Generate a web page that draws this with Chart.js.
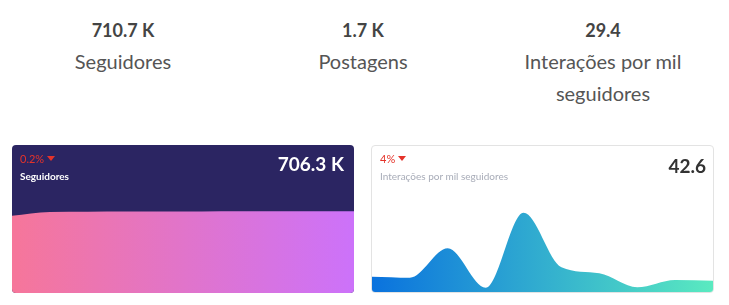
<!DOCTYPE html>
<html>
<head>
<meta charset="utf-8">
<script src="https://cdn.jsdelivr.net/npm/chart.js@4"></script>
<style>
  body { margin: 0; background: #fff; font-family: Lato, "Open Sans", sans-serif; width: 729px; height: 305px; position: relative; overflow: hidden; }
  .stat { position: absolute; top: 0; width: 240px; text-align: center; }
  .stat .num { position: absolute; top: 21px; left: 0; width: 100%; font-size: 18px; line-height: 18px; font-weight: 700; color: #444; }
  .stat .lbl { position: absolute; top: 45px; left: 0; width: 100%; font-size: 20px; line-height: 32px; color: #555; }
  .card { position: absolute; top: 145px; height: 148px; border-radius: 4px; overflow: hidden; box-sizing: border-box; }
  .card canvas { position: absolute; left: 0; bottom: 0; }
  .card .pct { position: absolute; left: 8px; top: 7px; font-size: 11px; line-height: 14px; color: #e5332a; }
  .card .pct i { display: inline-block; width: 0; height: 0; border-left: 4px solid transparent; border-right: 4px solid transparent; border-top: 5px solid #e5332a; margin-left: 3px; vertical-align: 2px; }
  .card .name { position: absolute; left: 8px; top: 25px; font-size: 10px; line-height: 12px; }
  .card .val { position: absolute; top: 8px; font-size: 19px; line-height: 22px; font-weight: 700; }
  #c1 { left: 12px; width: 342px; background: #2b2562; }
  #c1 .name { color: #fff; font-weight: 700; }
  #c1 .val { right: 10px; color: #fff; }
  #c2 { left: 371px; width: 343px; background: #fff; border: 1px solid #e3e3e3; }
  #c2 .pct { left: 8px; top: 6px; }
  #c2 .name { left: 8px; top: 24px; color: #a8acb8; }
  #c2 .val { right: 7px; top: 9px; color: #333; }
</style>
</head>
<body>

<div class="stat" style="left:3px"><div class="num">710.7 K</div><div class="lbl">Seguidores</div></div>
<div class="stat" style="left:243px"><div class="num">1.7 K</div><div class="lbl">Postagens</div></div>
<div class="stat" style="left:483px"><div class="num">29.4</div><div class="lbl">Interações por mil<br>seguidores</div></div>

<div class="card" id="c1">
  <canvas id="chartFollowers" width="342" height="148"></canvas>
  <div class="pct">0.2%<i></i></div>
  <div class="name">Seguidores</div>
  <div class="val">706.3 K</div>
</div>

<div class="card" id="c2">
  <canvas id="chartInteractions" width="341" height="146"></canvas>
  <div class="pct">4%<i></i></div>
  <div class="name">Interações por mil seguidores</div>
  <div class="val">42.6</div>
</div>

<script>
const periods = ["1", "2", "3", "4", "5", "6", "7", "8", "9", "10"];

// seguidores (milhares)
const followers = [668, 700, 703, 704.5, 705.3, 705.8, 706, 706.1, 706.2, 706.3];
const followersMax = 1280;

// interações por mil seguidores
const interactions = [15.3, 14.3, 43.7, 4.3, 79.3, 24.7, 18.7, 4.7, 12, 11.3];
const interactionsMax = 146;

function sideGradient(from, to) {
  return (context) => {
    const { ctx, chartArea } = context.chart;
    if (!chartArea) return from;
    const g = ctx.createLinearGradient(chartArea.left, 0, chartArea.right, 0);
    g.addColorStop(0, from);
    g.addColorStop(1, to);
    return g;
  };
}

function areaChart(id, values, max, from, to) {
  new Chart(document.getElementById(id), {
    type: "line",
    data: {
      labels: periods,
      datasets: [
        {
          data: values,
          fill: "origin",
          backgroundColor: sideGradient(from, to),
          borderWidth: 0,
          pointRadius: 0,
          cubicInterpolationMode: "monotone",
        },
      ],
    },
    options: {
      responsive: false,
      animation: false,
      layout: { padding: 0 },
      plugins: { legend: { display: false }, tooltip: { enabled: false } },
      scales: {
        x: { display: false },
        y: { display: false, min: 0, max: max },
      },
    },
  });
}

areaChart("chartFollowers", followers, followersMax, "#f6769a", "#cc72fa");
areaChart("chartInteractions", interactions, interactionsMax, "#0a72de", "#5aeac0");
</script>
</body>
</html>
